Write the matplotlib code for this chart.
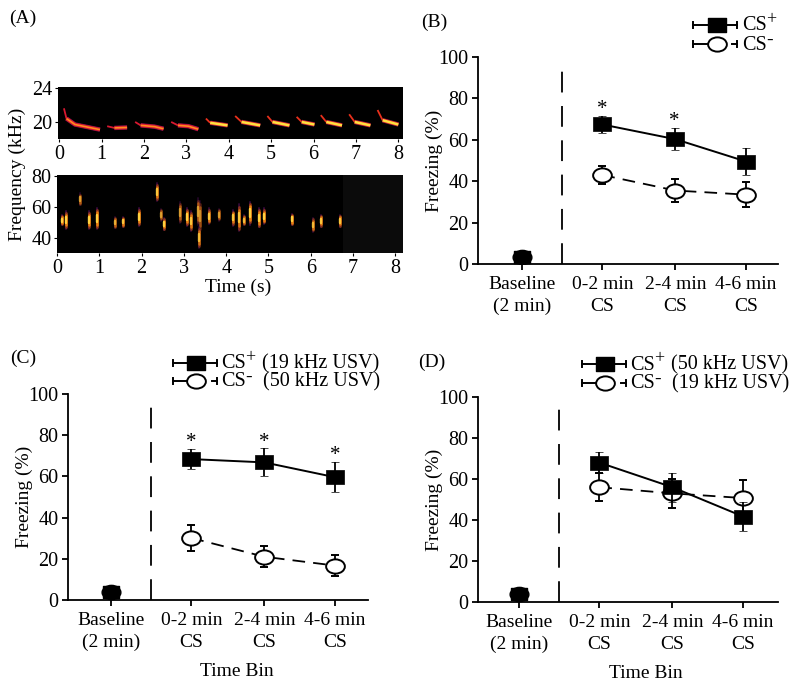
import matplotlib
matplotlib.use("Agg")
import matplotlib.pyplot as plt
from matplotlib.path import Path

plt.rcParams['font.family'] = ['Liberation Serif', 'DejaVu Serif']
plt.rcParams['font.size'] = 14

W, H = 800, 690

# panel A: 19 kHz calls, (time s, frequency kHz) points along each call
call_1 = [(0.11, 21.6), (0.17, 20.4), (0.37, 19.7), (0.96, 19.1)]
call_2 = [(1.13, 19.5), (1.3, 19.3), (1.6, 19.35)]
call_3 = [(1.79, 20.0), (1.92, 19.6), (2.25, 19.45), (2.46, 19.2)]
call_4 = [(2.64, 20.0), (2.8, 19.6), (3.05, 19.5), (3.28, 19.15)]
call_5 = [(3.46, 20.4), (3.56, 19.9), (3.97, 19.6)]
call_6 = [(4.15, 20.7), (4.3, 20.0), (4.74, 19.6)]
call_7 = [(4.91, 20.7), (5.03, 20.0), (5.43, 19.6)]
call_8 = [(5.6, 20.6), (5.72, 20.0), (6.02, 19.7)]
call_9 = [(6.17, 20.8), (6.3, 20.0), (6.67, 19.6)]
call_10 = [(6.84, 20.9), (6.97, 20.0), (7.34, 19.6)]
call_11 = [(7.51, 21.4), (7.63, 20.2), (8.0, 19.7)]
calls_dim = [call_1, call_2, call_3, call_4]
calls_bright = [call_5, call_6, call_7, call_8, call_9, call_10, call_11]

# panel A: 50 kHz calls, (time s, low kHz, high kHz)
blob_t = [0.13, 0.22, 0.55, 0.75, 0.95, 1.36, 1.55, 1.93, 2.37, 2.47, 2.52, 2.9,
          3.08, 3.17, 3.33, 3.38, 3.35, 3.6, 3.82, 4.17, 4.3, 4.42, 4.57, 4.78,
          4.9, 5.55, 6.05, 6.25, 6.7]
blob_lo = [49, 47, 62, 47, 47, 47, 48, 49, 65, 52, 46, 51,
           49, 46, 50, 46, 35, 50, 52, 49, 46, 49, 50, 48,
           50, 49, 45, 48, 48]
blob_hi = [54, 56, 68, 56, 58, 53, 53, 58, 74, 58, 52, 62,
           58, 56, 64, 62, 46, 58, 58, 57, 60, 54, 62, 58,
           58, 55, 52, 54, 54]
blob_glow = [1, 1, 0.6, 1, 1, 0.7, 0.9, 1, 0.9, 0.6, 1, 0.6,
             1, 0.9, 0.6, 0.5, 0.8, 0.9, 0.6, 0.9, 0.9, 0.8, 1, 1,
             1, 1, 0.8, 0.9, 0.9]
silence_start = 6.75

bins = ['Baseline\n(2 min)', '0-2 min\nCS', '2-4 min\nCS', '4-6 min\nCS']
bin_x = [0, 1.1, 2.1, 3.07]
divider_x = 0.55

b_plus = [3.5, 67.4, 60.3, 49.5]
b_plus_err = [0, 4, 5.3, 6.5]
b_minus = [3.5, 43, 35.5, 33.5]
b_minus_err = [0, 4.5, 5.5, 6]
b_stars = [(1.1, 74.5), (2.08, 69)]

c_plus = [4, 68.4, 66.8, 59.6]
c_plus_err = [0, 4.8, 6.8, 7.4]
c_minus = [4, 30.1, 21, 16.7]
c_minus_err = [0, 6.1, 5, 5]
c_stars = [(1.1, 76.5), (2.1, 76.5), (3.07, 70)]

d_plus = [4, 68, 56, 41.7]
d_plus_err = [0, 5.3, 7, 7.2]
d_minus = [4, 56, 53, 50.7]
d_minus_err = [0, 6.7, 7, 8.6]

# the figure is a little stretched sideways, so the markers are wider than tall
circle = Path.unit_circle()
oval = Path(circle.vertices * [1, 0.76], circle.codes)
wide_box = Path([(-1, -0.82), (1, -0.82), (1, 0.82), (-1, 0.82), (-1, -0.82)], closed=True)


def px_axes(left, top, right, bottom):
    return fig.add_axes([left / W, 1 - bottom / H, (right - left) / W, (bottom - top) / H])


def spectro(ax, xlim, ylim, yticks):
    ax.set_facecolor('black')
    ax.set_xlim(*xlim)
    ax.set_ylim(*ylim)
    ax.set_xticks(range(9))
    ax.set_yticks(yticks)
    for s in ['top', 'right', 'left', 'bottom']:
        ax.spines[s].set_visible(False)
    ax.tick_params(length=2.5, width=0.8, pad=1.5, labelsize=14.5)


def freezing_panel(left, top, bottom, x0, plus, plus_err, minus, minus_err, stars):
    ax = px_axes(left, top, left + 300, bottom)
    ax.set_xlim(x0, x0 + 300 / 73)
    ax.set_ylim(0, 100)
    ax.errorbar(bin_x[1:], minus[1:], yerr=minus_err[1:], color='black', ls=(0, (7, 4.5)), lw=1.3,
                marker=oval, ms=13.5, mfc='white', mec='black', mew=1.4, capsize=3, capthick=1.3,
                elinewidth=1.3, zorder=3, clip_on=False)
    ax.errorbar(bin_x[1:], plus[1:], yerr=plus_err[1:], color='black', lw=1.4,
                marker=wide_box, ms=13, mfc='black', mec='black', mew=0.5, capsize=3, capthick=1.3,
                elinewidth=1.3, zorder=4, clip_on=False)
    ax.plot(bin_x[0], minus[0], marker=oval, color='black', ms=13.5, zorder=4)
    ax.plot(bin_x[0], plus[0], marker=wide_box, color='black', ms=11, zorder=4)
    ax.plot([divider_x, divider_x], [0, 98], color='black', lw=1.3, ls=(0, (11.5, 7.5)))
    for sx, sy in stars:
        ax.text(sx, sy, '*', ha='center', va='center', fontsize=15)
    ax.set_xticks(bin_x)
    ax.set_xticklabels(bins, linespacing=1.4)
    ax.set_yticks(range(0, 101, 20))
    ax.set_ylabel('Freezing (%)', labelpad=-3.5)
    ax.spines['top'].set_visible(False)
    ax.spines['right'].set_visible(False)
    ax.spines['left'].set_linewidth(1.3)
    ax.spines['bottom'].set_linewidth(1.3)
    ax.tick_params(length=4.5, width=1.3, pad=4)
    ax.tick_params(axis='y', labelsize=14.5, pad=2.5)
    return ax


def legend_key(x0, x1, cx, y_plus, y_minus, tx, label_plus='', label_minus=''):
    over.plot([x0, x1], [y_plus, y_plus], color='black', lw=1.4)
    over.plot([x0, x0], [y_plus - 3, y_plus + 3], color='black', lw=1.4)
    over.plot([x1, x1], [y_plus - 3, y_plus + 3], color='black', lw=1.4)
    over.plot(cx, y_plus, marker=wide_box, color='black', ms=13)
    over.plot([x0, cx], [y_minus, y_minus], color='black', lw=1.4)
    over.plot([x1 - 5, x1], [y_minus, y_minus], color='black', lw=1.4)
    over.plot([x0, x0], [y_minus - 3, y_minus + 3], color='black', lw=1.4)
    over.plot([x1, x1], [y_minus - 3, y_minus + 3], color='black', lw=1.4)
    over.plot(cx, y_minus, marker=oval, ms=13.5, mfc='white', mec='black', mew=1.4)
    # superscripts are separate texts, they are bigger in the original than mathtext makes them
    over.text(tx, y_plus + 1, 'CS', ha='left', va='center', fontsize=14.5)
    over.text(tx + 24, y_plus - 5, '+', ha='left', va='center', fontsize=13)
    over.text(tx, y_minus + 1, 'CS', ha='left', va='center', fontsize=14.5)
    over.text(tx + 24, y_minus - 4, '-', ha='left', va='center', fontsize=14)
    if label_plus:
        over.text(tx + 41, y_plus + 1, label_plus, ha='left', va='center', fontsize=14.5)
        over.text(tx + 42, y_minus + 1, label_minus, ha='left', va='center', fontsize=14.5)


fig = plt.figure(figsize=(W / 100, H / 100), dpi=100)

# spectrograms
top_ax = px_axes(58, 87, 403, 139)
spectro(top_ax, (-0.03, 8.11), (18, 24.1), [20, 24])
for group, mid, core, core_lw in [(calls_dim, '#d81830', '#ff8a20', 1.2), (calls_bright, '#e8301c', '#ffe040', 1.8)]:
    for call in group:
        ts = [p[0] for p in call]
        fs = [p[1] for p in call]
        top_ax.plot(ts[:2], fs[:2], color=mid, lw=1.3, solid_capstyle='butt')
        top_ax.plot(ts[1:], fs[1:], color='#701050', lw=3.2, solid_capstyle='butt')
        top_ax.plot(ts[1:], fs[1:], color=mid, lw=2.6, solid_capstyle='butt')
        top_ax.plot(ts[1:], fs[1:], color=core, lw=core_lw, solid_capstyle='butt')

low_ax = px_axes(57, 175, 403, 253)
spectro(low_ax, (0.02, 8.18), (30.3, 80.6), [40, 60, 80])
low_ax.axvspan(silence_start, 8.18, color='#0b0b0b', lw=0)
# each call fades outwards: long dim stroke, shorter orange, short yellow centre
for t, lo, hi, g in zip(blob_t, blob_lo, blob_hi, blob_glow):
    mid = (lo + hi) / 2
    span = (hi - lo) / 2
    for frac, lw, col, a in [(1.25, 1.4, '#5a1060', 0.6), (1.0, 2.0, '#a8401c', 0.8),
                             (0.75, 1.8, '#e88010', 1.0), (0.4, 1.7, '#ffd040', 1.0)]:
        low_ax.plot([t, t], [mid - span * frac, mid + span * frac], color=col, lw=lw,
                    alpha=a * g, solid_capstyle='round')

freezing_panel(478, 57, 264, -0.603, b_plus, b_plus_err, b_minus, b_minus_err, b_stars)
freezing_panel(68, 394, 600, -0.589, c_plus, c_plus_err, c_minus, c_minus_err, c_stars)
freezing_panel(478, 397, 602, -0.562, d_plus, d_plus_err, d_minus, d_minus_err, [])

# figure level text and legend keys, in image pixels
over = fig.add_axes([0, 0, 1, 1], facecolor='none')
over.set_xlim(0, W)
over.set_ylim(H, 0)
over.axis('off')

over.text(9, 18, '(A)', va='center')
over.text(421, 22, '(B)', va='center')
over.text(10, 358, '(C)', va='center')
over.text(418, 362, '(D)', va='center')
over.text(17, 174, 'Frequency (kHz)', rotation=90, ha='center', va='center', fontsize=14)
over.text(238, 287, 'Time (s)', ha='center', va='center')
over.text(237, 672, 'Time Bin', ha='center', va='center')
over.text(646, 673, 'Time Bin', ha='center', va='center')

legend_key(693, 737, 717, 25, 44, 742)
legend_key(173, 217, 196, 363, 381, 221, '(19 kHz USV)', '(50 kHz USV)')
legend_key(582, 626, 605, 364, 383, 630, '(50 kHz USV)', '(19 kHz USV)')

fig.savefig('out.png', dpi=100)
